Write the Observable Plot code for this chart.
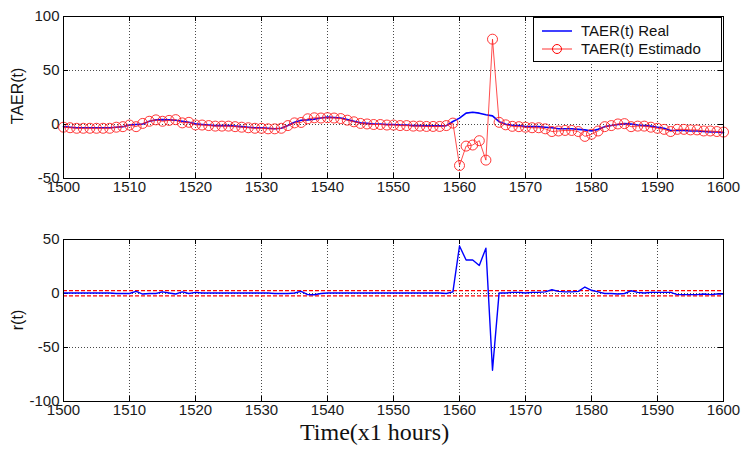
<!DOCTYPE html>
<html><head><meta charset="utf-8">
<script src="https://cdn.jsdelivr.net/npm/d3@7"></script>
<script src="https://cdn.jsdelivr.net/npm/@observablehq/plot@0.6"></script>
<style>
body{margin:0;background:#fff;}
#wrap{position:relative;width:741px;height:449px;font-family:"Liberation Sans",Arial,sans-serif;color:#000;overflow:hidden}
.pl{position:absolute;left:0}
.ylab{position:absolute;font-size:16px;transform:translate(-50%,-50%) rotate(-90deg);white-space:nowrap;color:#111}
.legend{position:absolute;left:533px;top:17px;width:189px;height:45px;border:1px solid #000;background:#fff;box-sizing:border-box;font-size:15px;color:#111}
.legend .row{position:absolute;left:0;height:18px;line-height:18px}
.legend .row span{position:absolute;left:47px;white-space:nowrap}
.legend svg{position:absolute;left:6px;top:0}
.xlabel{position:absolute;left:300px;top:419px;white-space:nowrap;font-family:"Liberation Serif",serif;font-size:24px;color:#111}
</style>
</head><body>
<div id="wrap">
  <div id="topPlot" class="pl" style="top:0"></div>
  <div id="botPlot" class="pl" style="top:200px"></div>
  <div class="ylab" style="left:18px;top:96px">TAER(t)</div>
  <div class="ylab" style="left:18px;top:320px">r(t)</div>
  <div class="legend">
    <div class="row" style="top:4px"><svg width="40" height="18"><line x1="2" x2="32" y1="9" y2="9" stroke="#0000ff" stroke-width="1.5"/></svg><span>TAER(t) Real</span></div>
    <div class="row" style="top:22px"><svg width="40" height="18"><line x1="2" x2="32" y1="9" y2="9" stroke="#ff0000" stroke-width="0.8"/><circle cx="17" cy="9" r="4.5" fill="none" stroke="#ff0000"/></svg><span>TAER(t) Estimado</span></div>
  </div>
  <div class="xlabel">Time(x1 hours)</div>
</div>
<script>
const startHour = 1500;
const real = [
 -2,-2.5,-3,-3,-3,-3,-3,-3,-2.5,-2,
 -0.5,0,0.5,3,4.3,4.5,4.3,4,3,2,
 0.6,0,-0.5,-1,-1,-1,-1.5,-2,-2.5,-3,
 -3,-3.5,-4,-3.5,-1,2,3.9,4.3,5,6,
 6.8,6.5,6,4.5,3,1.5,1,0.5,0.5,0,
 0,-0.5,-0.5,-1,-1,-1.3,-1.3,-1.3,-1,2.8,
 5.9,10.5,11.4,10.5,9,8,2.6,0.2,-0.7,-1,
 -2,-2,-2,-2.5,-3,-4,-4,-4,-4.5,-5,
 -6,-4.5,-2,-1,0,0.8,0.5,-0.5,-1,-1.5,
 -2.5,-3.5,-5.5,-5.5,-5.5,-6,-6,-6.5,-7,-7,-7.5];
const estimado = [
 -2.5,-3,-3.5,-3.5,-3.5,-3.5,-3.5,-3.5,-2.5,-2,
 -0.5,-2,1,3,4.3,3,3.8,4.5,1.5,2,
 -0.4,-0.5,-1,-1.5,-1.5,-1.5,-2,-2.5,-3,-3.5,
 -3.5,-4,-4,-3.5,-1,1.5,1.9,5.3,6.2,6,
 6.3,6,5.5,4,2.5,1,0.5,0,0,-0.5,
 -0.5,-1,-1,-1.5,-1.5,-1.8,-1.8,-1.8,-1,1.3,
 -38,-20,-19,-15,-33,79,2,-0.3,-1.7,-2,
 -2.5,-3,-3,-4,-6.5,-6,-5.5,-5.5,-6.5,-11,
 -9,-6,-2,-1,0.5,0.8,-2,-1.5,-1.5,-2.5,
 -3.5,-4.5,-6.5,-4.5,-4.5,-5,-5,-6,-6,-6.5,-7];
const residual = [
 0.5,0.5,0.5,0.5,0.5,0.5,0.5,0.5,0,0,
 0,2,-0.5,0,0,1.5,0.5,-0.5,1.5,0,
 1,0.5,0.5,0.5,0.5,0.5,0.5,0.5,0.5,0.5,
 0.5,0.5,0,0,0,0.5,2,-1,-1.2,0,
 0.5,0.5,0.5,0.5,0.5,0.5,0.5,0.5,0.5,0.5,
 0.5,0.5,0.5,0.5,0.5,0.5,0.5,0.5,0,1.5,
 44,31,31,26,42,-71,0.6,0.5,1,1,
 0.5,1,1,1.5,3.5,2,1.5,1.5,2,6,
 3,1.5,0,0,-0.5,0,2.5,1,0.5,1,
 1,1,1,-1,-1,-1,-1,-0.5,-1,-0.5,-0.5];
const thresholds = [2.6, -2.2];
const xTicks = [1500,1510,1520,1530,1540,1550,1560,1570,1580,1590,1600];
const yTicksTop = [-50,0,50,100];
const yTicksBot = [-100,-50,0,50];

const data = real.map((v,i)=>({t:startHour+i, real:v, est:estimado[i], r:residual[i]}));
const W = 741, ML = 63, MR = 18, IH = 162, IW = W-ML-MR;
const grid = {stroke:"#000", strokeDasharray:"1,2", strokeWidth:0.8, strokeOpacity:0.9};
const font = {fontSize:15, fill:"#1a1a1a"};

function frameMarks(yTicks){
  const inner = yTicks.slice(1,-1);
  const xin = xTicks.slice(1,-1);
  return [
    Plot.ruleX(xin, {x:d=>d, ...grid}),
    Plot.ruleY(inner, {y:d=>d, ...grid}),
    Plot.tickX(xTicks, {x:d=>d, stroke:"#000", insetTop:IH-5}),
    Plot.tickX(xTicks, {x:d=>d, stroke:"#000", insetBottom:IH-5}),
    Plot.tickY(yTicks, {y:d=>d, stroke:"#000", insetRight:IW-5}),
    Plot.tickY(yTicks, {y:d=>d, stroke:"#000", insetLeft:IW-5}),
    Plot.axisX({ticks:xTicks, tickSize:0, tickPadding:3, tickFormat:d=>String(d), label:null, ...font}),
    Plot.axisY({ticks:yTicks, tickSize:0, tickPadding:4, tickFormat:d=>String(d), label:null, ...font})
  ];
}

const topChart = Plot.plot({
  width: W, height: 200,
  marginLeft: ML, marginRight: MR, marginTop: 16, marginBottom: 22,
  style:{fontFamily:'"Liberation Sans",Arial,sans-serif', background:"transparent"},
  x:{domain:[1500,1600]},
  y:{domain:[-50,100]},
  marks:[
    ...frameMarks(yTicksTop),
    Plot.line(data,{x:"t", y:"real", stroke:"#0000ff", strokeWidth:1.6}),
    Plot.line(data,{x:"t", y:"est", stroke:"#ff2020", strokeWidth:0.8}),
    Plot.dot(data,{x:"t", y:"est", r:5, stroke:"#ff2020", strokeWidth:0.9, fill:"none"}),
    Plot.frame({stroke:"#000"})
  ]
});
document.getElementById("topPlot").appendChild(topChart);

const botChart = Plot.plot({
  width: W, height: 221,
  marginLeft: ML, marginRight: MR, marginTop: 39, marginBottom: 20,
  style:{fontFamily:'"Liberation Sans",Arial,sans-serif', background:"transparent"},
  x:{domain:[1500,1600]},
  y:{domain:[-100,50]},
  marks:[
    ...frameMarks(yTicksBot),
    Plot.ruleY(thresholds,{y:d=>d, stroke:"#ff0000", strokeWidth:1.3, strokeDasharray:"4,2"}),
    Plot.line(data,{x:"t", y:"r", stroke:"#0000ff", strokeWidth:1.4}),
    Plot.frame({stroke:"#000"})
  ]
});
document.getElementById("botPlot").appendChild(botChart);
</script>
</body></html>
